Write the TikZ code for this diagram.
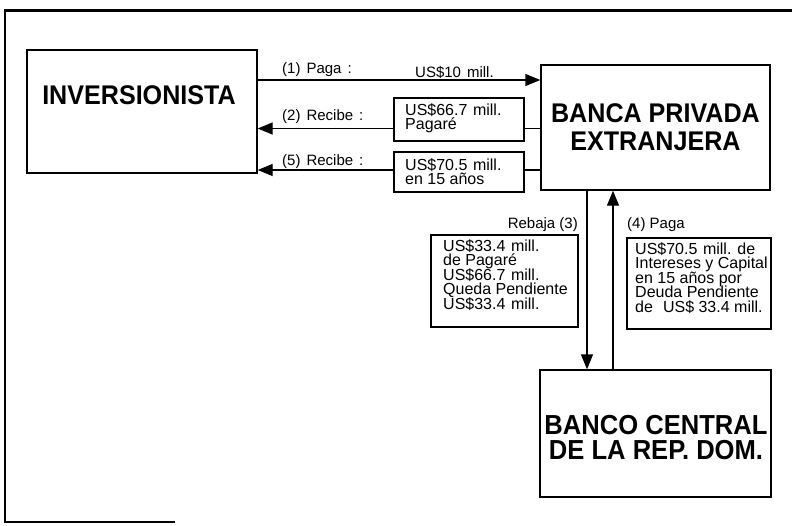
\documentclass[tikz,border=0pt]{standalone}
\usepackage{fontspec}
\setmainfont{Liberation Sans}
\newfontfamily\bigfont[FakeStretch=0.93]{Liberation Sans}
\usetikzlibrary{arrows.meta}
\begin{document}
\begin{tikzpicture}[x=1pt,y=-1pt,
  box/.style={draw, line width=1.4pt, rectangle, inner sep=0pt},
  txt/.style={font={\fontsize{16}{14.5}\selectfont\lineskiplimit=-20pt\lineskip=0pt}, inner sep=0pt, align=left, anchor=base west},
  lbl/.style={font=\fontsize{15}{15}\selectfont, inner sep=0pt},
  bigtxt/.style={font=\bigfont\bfseries\fontsize{27}{28}\selectfont, align=center, inner sep=0pt},
  arr/.style={line width=1.4pt, -{Triangle[length=15pt,width=12pt]}},
  ln/.style={line width=1.4pt}]
\useasboundingbox[fill=white] (0,0) rectangle (792,525);
% outer frame
\draw[line width=2.5pt] (792,10.5) -- (5,10.5) -- (5,522) -- (175,522);
% main boxes
\node[box, minimum width=230pt, minimum height=123pt] (inv) at (142,111.5) {};
\node[bigtxt, font=\bigfont\bfseries\fontsize{27}{28}\selectfont] (invt) at (139,95) {INVERSIONISTA};
\node[box, bigtxt, minimum width=229pt, minimum height=125pt] (banca) at (655.5,127.5) {BANCA PRIVADA\\EXTRANJERA};
\node[box, minimum width=231pt, minimum height=127pt] (banco) at (655.5,433.5) {};
\node[bigtxt, font=\bigfont\bfseries\fontsize{27.5}{25}\selectfont] (bancot) at (656,437.5) {BANCO CENTRAL\\DE LA REP. DOM.};
% small boxes (text nodes placed at the baseline of their last line)
\node[box, minimum width=130pt, minimum height=43pt] (b2) at (459,119.5) {};
\node[txt] (b2t) at (405,129.5) {US\$66.7\hspace{0.35em}mill.\\Pagaré};
\node[box, minimum width=130pt, minimum height=40pt] (b5) at (459,172) {};
\node[txt] (b5t) at (405,184.5) {US\$70.5\hspace{0.35em}mill.\\en 15 años};
\node[box, minimum width=147pt, minimum height=92pt] (b3) at (504.5,281) {};
\node[txt] (b3t) at (443,309) {US\$33.4\hspace{0.35em}mill.\\de Pagaré\\US\$66.7\hspace{0.35em}mill.\\Queda Pendiente\\US\$33.4\hspace{0.35em}mill.};
\node[box, minimum width=144pt, minimum height=91pt] (b4) at (699,283.5) {};
\node[txt] (b4t) at (635,312) {US\$70.5\hspace{0.35em}mill. de\\Intereses y Capital\\en 15 años por\\Deuda Pendiente\\de\hspace{0.35em} US\$ 33.4 mill.};
% labels
\node[lbl, anchor=base west] (l1) at (282,73) {(1)\hspace{0.4em}Paga\hspace{0.4em}:};
\node[lbl, anchor=base west] (l1v) at (415,77) {US\$10\hspace{0.4em}mill.};
\node[lbl, anchor=base west] (l2) at (282,120) {(2)\hspace{0.4em}Recibe\hspace{0.4em}:};
\node[lbl, anchor=base west] (l5) at (282,165) {(5)\hspace{0.4em}Recibe\hspace{0.4em}:};
\node[lbl, anchor=base east] (l3) at (578,228) {Rebaja (3)};
\node[lbl, anchor=base west] (l4) at (627,228) {(4) Paga};
% connectors
\coordinate (a1) at (257,80);
\draw[arr] (a1 -| inv.east) -- (a1 -| banca.west);
\coordinate (a2) at (394,128.5);
\draw[arr] (a2 -| b2.west) -- (a2 -| inv.east);
\draw[ln] (a2 -| b2.east) -- (a2 -| banca.west);
\coordinate (a5) at (394,170);
\draw[arr] (a5 -| b5.west) -- (a5 -| inv.east);
\draw[ln] (a5 -| b5.east) -- (a5 -| banca.west);
\coordinate (d3) at (587,0);
\draw[arr] (d3 |- banca.south) -- (d3 |- banco.north);
\coordinate (u4) at (613,0);
\draw[arr] (u4 |- banco.north) -- (u4 |- banca.south);
\end{tikzpicture}
\end{document}
